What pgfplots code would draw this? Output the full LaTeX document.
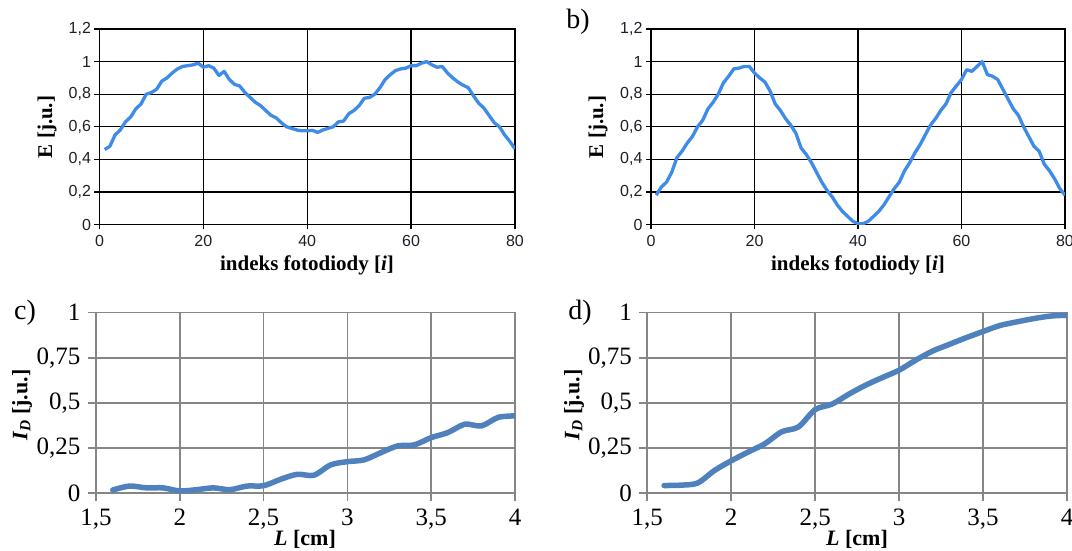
\documentclass[border=0pt]{standalone}
\usepackage{fontspec}
\setmainfont{Liberation Serif}
\newfontfamily\serif{Liberation Serif}
\newfontfamily\sansf{Liberation Sans}
\usepackage{pgfplots}
\pgfplotsset{compat=1.18}
\definecolor{lineab}{RGB}{62,140,232}
\definecolor{linecd}{RGB}{79,129,189}
\definecolor{gridcd}{RGB}{134,134,134}
\definecolor{tickab}{RGB}{30,30,40}
\pgfplotsset{
  abstyle/.style={
    scale only axis, anchor=south west,
    xmin=0, xmax=80, ymin=0, ymax=1.2,
    xtick={0,20,40,60,80}, xticklabels={0,20,40,60,80},
    ytick={0,0.2,0.4,0.6,0.8,1,1.2},
    yticklabels={0,{0,2},{0,4},{0,6},{0,8},1,{1,2}},
    grid=major, major grid style={black, line width=1.3pt},
    axis line style={black, line width=1.3pt},
    tick align=outside, major tick length=5pt,
    tick style={black, line width=1.3pt},
    xtick pos=bottom, ytick pos=left,
    ticklabel style={font=\sansf\fontsize{16}{19}\selectfont, text=tickab},
    xticklabel style={yshift=-2pt},
  },
  cdstyle/.style={
    scale only axis, anchor=south west,
    xmin=1.5, xmax=4, ymin=0, ymax=1,
    xtick={1.5,2,2.5,3,3.5,4}, xticklabels={{1,5},2,{2,5},3,{3,5},4},
    ytick={0,0.25,0.5,0.75,1}, yticklabels={0,{0,25},{0,5},{0,75},1},
    grid=major, major grid style={gridcd, line width=1.7pt},
    axis line style={gridcd, line width=1.7pt},
    tick align=outside, major tick length=8pt,
    tick style={gridcd, line width=1.7pt},
    xtick pos=bottom, ytick pos=left,
    ticklabel style={font=\serif\fontsize{25}{29}\selectfont, text=black},
    xticklabel style={yshift=-4pt},
    yticklabel style={xshift=-4pt},
  },
}
\begin{document}
\begin{tikzpicture}[x=1pt,y=1pt]
\useasboundingbox (0,0) rectangle (1072,551);
% ---- a ----
\begin{axis}[abstyle, at={(99.5pt,326.5pt)}, width=415.5pt, height=195.5pt]
\addplot[color=lineab, line width=3.3pt, line join=round] coordinates {
(1,0.46)(2,0.48)(3,0.55)(4,0.58)(5,0.63)(6,0.66)(7,0.71)(8,0.74)(9,0.80)(10,0.81)
(11,0.83)(12,0.88)(13,0.90)(14,0.93)(15,0.955)(16,0.97)(17,0.975)(18,0.98)(19,0.99)(20,0.965)
(21,0.975)(22,0.96)(23,0.915)(24,0.94)(25,0.89)(26,0.86)(27,0.85)(28,0.81)(29,0.78)(30,0.75)
(31,0.73)(32,0.70)(33,0.67)(34,0.655)(35,0.625)(36,0.60)(37,0.59)(38,0.58)(39,0.575)(40,0.575)
(41,0.578)(42,0.565)(43,0.58)(44,0.59)(45,0.60)(46,0.63)(47,0.635)(48,0.68)(49,0.70)(50,0.73)
(51,0.775)(52,0.78)(53,0.80)(54,0.84)(55,0.89)(56,0.92)(57,0.945)(58,0.955)(59,0.96)(60,0.975)
(61,0.975)(62,0.99)(63,1.0)(64,0.98)(65,0.965)(66,0.97)(67,0.93)(68,0.90)(69,0.875)(70,0.855)
(71,0.84)(72,0.79)(73,0.745)(74,0.715)(75,0.67)(76,0.625)(77,0.60)(78,0.55)(79,0.51)(80,0.465)
};
\end{axis}
% ---- b ----
\begin{axis}[abstyle, at={(651pt,326.5pt)}, width=414pt, height=195.5pt]
\addplot[color=lineab, line width=3.3pt, line join=round] coordinates {
(1,0.18)(2,0.23)(3,0.26)(4,0.32)(5,0.41)(6,0.45)(7,0.50)(8,0.54)(9,0.60)(10,0.64)
(11,0.71)(12,0.75)(13,0.80)(14,0.87)(15,0.91)(16,0.955)(17,0.96)(18,0.97)(19,0.97)(20,0.93)
(21,0.90)(22,0.875)(23,0.82)(24,0.74)(25,0.70)(26,0.65)(27,0.61)(28,0.56)(29,0.47)(30,0.43)
(31,0.38)(32,0.32)(33,0.26)(34,0.21)(35,0.17)(36,0.12)(37,0.08)(38,0.05)(39,0.02)(40,0.005)
(41,0.005)(42,0.02)(43,0.05)(44,0.08)(45,0.12)(46,0.17)(47,0.22)(48,0.26)(49,0.33)(50,0.38)
(51,0.44)(52,0.49)(53,0.55)(54,0.61)(55,0.65)(56,0.70)(57,0.74)(58,0.81)(59,0.85)(60,0.89)
(61,0.95)(62,0.94)(63,0.97)(64,1.0)(65,0.92)(66,0.91)(67,0.89)(68,0.83)(69,0.77)(70,0.71)
(71,0.67)(72,0.60)(73,0.54)(74,0.48)(75,0.45)(76,0.37)(77,0.33)(78,0.28)(79,0.22)(80,0.18)
};
\end{axis}
% ---- c ----
\begin{axis}[cdstyle, at={(96pt,57.7pt)}, width=419pt, height=180.8pt]
\addplot[color=linecd, line width=5.5pt, smooth, line cap=round] coordinates {
(1.6,0.018)(1.7,0.04)(1.8,0.03)(1.9,0.03)(2.0,0.013)(2.1,0.02)(2.2,0.03)(2.3,0.02)(2.4,0.04)(2.5,0.042)
(2.6,0.077)(2.7,0.105)(2.8,0.10)(2.9,0.157)(3.0,0.175)(3.1,0.185)(3.2,0.225)(3.3,0.262)(3.4,0.268)(3.5,0.308)
(3.6,0.336)(3.7,0.382)(3.8,0.373)(3.9,0.42)(4.0,0.428)
};
\end{axis}
% ---- d ----
\begin{axis}[cdstyle, at={(647.3pt,57.7pt)}, width=419.7pt, height=180.8pt]
\addplot[color=linecd, line width=5.5pt, smooth, line cap=round] coordinates {
(1.6,0.043)(1.7,0.045)(1.8,0.057)(1.9,0.126)(2.0,0.18)(2.1,0.228)(2.2,0.274)(2.3,0.34)(2.4,0.367)(2.5,0.463)
(2.6,0.493)(2.7,0.548)(2.8,0.598)(2.9,0.64)(3.0,0.681)(3.1,0.737)(3.2,0.787)(3.3,0.824)(3.4,0.861)(3.5,0.895)
(3.6,0.928)(3.7,0.948)(3.8,0.966)(3.9,0.98)(4.0,0.985)
};
\end{axis}
% ---- labels ----
\tikzset{ablab/.style={font=\serif\bfseries\fontsize{21}{24}\selectfont, inner sep=0pt},
         cdlab/.style={font=\serif\bfseries\fontsize{22}{26}\selectfont, inner sep=0pt},
         panlab/.style={font=\serif\fontsize{28}{32}\selectfont, inner sep=0pt}}
\node[ablab] at (307,286) {indeks fotodiody [\textit{i}]};
\node[ablab] at (858,286) {indeks fotodiody [\textit{i}]};
\node[ablab, rotate=90] at (47,424) {E [j.u.]};
\node[ablab, rotate=90] at (598,424) {E [j.u.]};
\node[cdlab] at (305,12) {\textit{L} [cm]};
\node[cdlab] at (857,12) {\textit{L} [cm]};
\node[cdlab, rotate=90] at (22,146) {\textit{I\textsubscript{D}} [j.u.]};
\node[cdlab, rotate=90] at (574,146) {\textit{I\textsubscript{D}} [j.u.]};
\node[panlab] at (578,529) {b)};
\node[panlab] at (25,238) {c)};
\node[panlab] at (580,238) {d)};
\end{tikzpicture}
\end{document}
